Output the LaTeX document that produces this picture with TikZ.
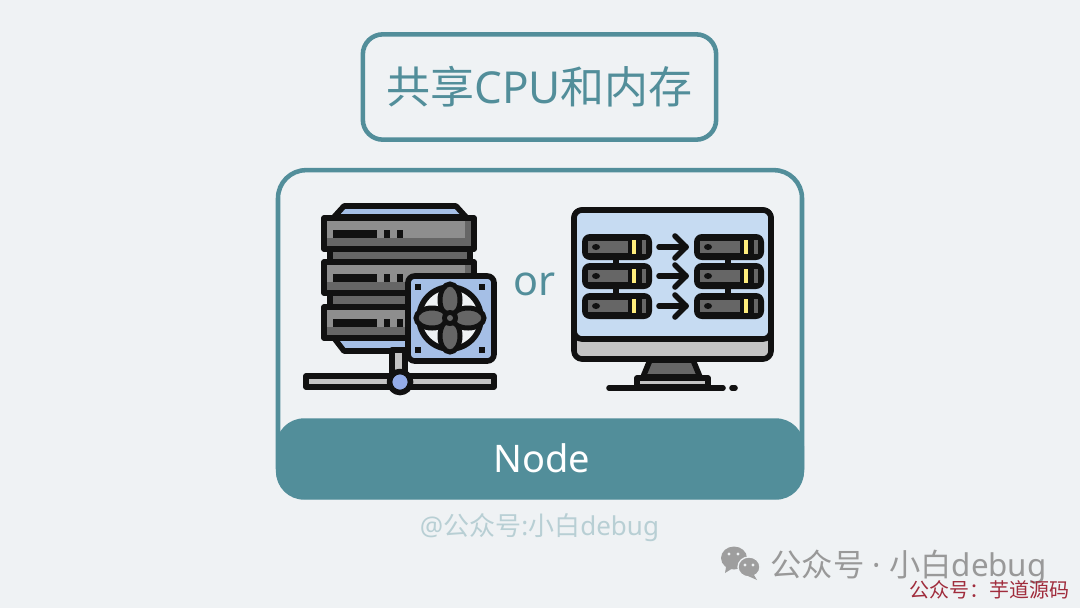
\documentclass[tikz,border=0pt]{standalone}
\usepackage{fontspec}
\setmainfont{Noto Sans}
\newfontfamily\cjk{Noto Sans CJK SC}
\definecolor{bgcol}{HTML}{EFF2F4}
\definecolor{teal}{HTML}{528E9A}
\definecolor{iconline}{HTML}{111111}
\definecolor{fanblue}{HTML}{A5BFE6}
\definecolor{screenblue}{HTML}{C6DBF2}
\definecolor{midgray}{HTML}{8E8E8E}
\definecolor{darkgray}{HTML}{666666}
\definecolor{lightgray}{HTML}{C4C4C4}
\definecolor{markred}{HTML}{A02C3C}
\tikzset{
  icon/.style={draw=iconline, line width=4.2pt, line join=round},
  titlebox/.style={draw=teal, line width=3.4pt, rounded corners=15pt, minimum width=265pt, minimum height=79pt, text=teal, font=\fontsize{33}{38}\selectfont},
  nodebox/.style={draw=teal, line width=3.4pt, rounded corners=21pt, minimum width=393pt, minimum height=245pt},
  nodeband/.style={fill=teal, rounded corners=21pt, minimum width=396pt, minimum height=61pt, text=white, font=\fontsize{28.5}{34}\selectfont},
}
\begin{document}
\begin{tikzpicture}[x=0.75pt, y=-0.75pt]
  \useasboundingbox[fill=bgcol] (0,0) rectangle (1080,608);
  \node[titlebox] (sharebox) at (539.5,87) {\raisebox{-1.5pt}{\cjk 共享{\rmfamily CPU}和内存}};
  \node[nodebox] (hostbox) at (540,333.5) {};
  \node[nodeband] (hostband) at (540,459) {\hspace*{3pt}\raisebox{1.5pt}{Node}};
  \node[text=teal, font=\fontsize{31}{36}\selectfont] (ortext) at (535,284) {or};
  % server
  \draw[icon, fill=fanblue] (344,206) -- (456,206) -- (466,217) -- (334,217) -- cycle;
  \draw[icon, fill=fanblue] (334,338) -- (344,351) -- (410,351) -- (410,338) -- cycle;
  \draw[icon, fill=darkgray] (330,248) rectangle (470,262);
  \draw[icon, fill=darkgray] (330,293) rectangle (470,307);
  \foreach \y in {218,262,307} {
    \fill[midgray] (324,\y) rectangle (474,\y+31);
    \fill[darkgray] (324,\y+20) rectangle (474,\y+31);
    \fill[darkgray] (465,\y) rectangle (474,\y+31);
    \draw[icon] (324,\y) rectangle (474,\y+31);
    \fill[iconline] (333,\y+12) rectangle (377,\y+20);
    \fill[iconline] (384,\y+12) rectangle (390,\y+20);
    \fill[iconline] (397,\y+12) rectangle (403,\y+20);
  }
  % network bar
  \draw[icon, fill=lightgray] (392,350) rectangle (405,376);
  \draw[icon, fill=lightgray] (306,376) rectangle (494,387);
  \draw[icon, fill=fanblue!90!blue] (400,382) circle (10.5);
  % fan
  \draw[icon, fill=fanblue, rounded corners=5pt] (408,276) rectangle (494,361);
  \foreach \x in {418,482} \foreach \y in {287,350} \fill[iconline] (\x-3,\y-3) rectangle (\x+3,\y+3);
  \draw[icon, fill=bgcol] (450,318) circle (31);
  \foreach \a in {0,90,180,270} {
    \draw[iconline, line width=3.75pt, fill=darkgray, rotate around={\a:(450,318)}] (450,300) ellipse (10 and 16);
  }
  \fill[iconline] (450,318) circle (8);
  \fill[darkgray] (450,318) circle (3);
  % monitor
  \draw[icon, fill=darkgray] (650,360) -- (693,360) -- (700,377) -- (643,377) -- cycle;
  \draw[icon, fill=lightgray] (637,378) rectangle (708,387);
  \draw[icon, line cap=round] (609,388) -- (723,388);
  \draw[icon, line cap=round] (732,388) -- (735,388);
  \draw[icon, fill=lightgray, rounded corners=6pt] (574,210) rectangle (771,359);
  \draw[icon, fill=screenblue, rounded corners=6pt] (574,210) -- (771,210) -- (771,339) -- (574,339) -- cycle;
  \foreach \y in {247,276,306} {
    \foreach \x in {582,694} {
      \fill[iconline, rounded corners=6pt] (\x,\y-13) rectangle (\x+70,\y+13);
      \fill[darkgray] (\x+6,\y-6) rectangle (\x+46,\y+6);
      \fill[iconline] (\x+14,\y) ellipse (4 and 3);
      \fill[yellow!45!white!90!orange] (\x+50,\y-7) rectangle (\x+54,\y+7);
      \fill[darkgray] (\x+60,\y-7) rectangle (\x+64,\y+7);
    }
    \draw[icon, line cap=round] (659,\y) -- (686,\y);
    \draw[icon, line cap=round] (675,\y-11) -- (686,\y) -- (675,\y+11);
  }
  \foreach \x in {616,728} {
    \fill[iconline] (\x-3,258) rectangle (\x+3,265);
    \fill[iconline] (\x-3,288) rectangle (\x+3,295);
  }
  % footer
  \node[text=teal!35!bgcol, font=\fontsize{19.5}{24}\selectfont] (handle) at (539.5,528) {@{\cjk 公众号}:{\cjk 小白}debug};
  \fill[black!38] (734,558) ellipse (13 and 11.5);
  \fill[black!38] (726,567) -- (725,573) -- (733,568) -- cycle;
  \draw[bgcol, line width=1pt, fill=black!38] (749,567) ellipse (11 and 10);
  \fill[black!38] (754,575) -- (757,580) -- (748,576) -- cycle;
  \foreach \x/\y in {729/554,738/554,745/565,753/565} \fill[bgcol] (\x,\y) circle (1.7);
  \node[text=black!40, font=\fontsize{23.5}{28}\selectfont] (wxname) at (908.5,567) {{\cjk 公众号} · {\cjk 小白}debug};
  \node[text=markred, font=\fontsize{15}{18}\selectfont] (redmark) at (989,590) {\cjk 公众号：芋道源码};
\end{tikzpicture}
\end{document}
